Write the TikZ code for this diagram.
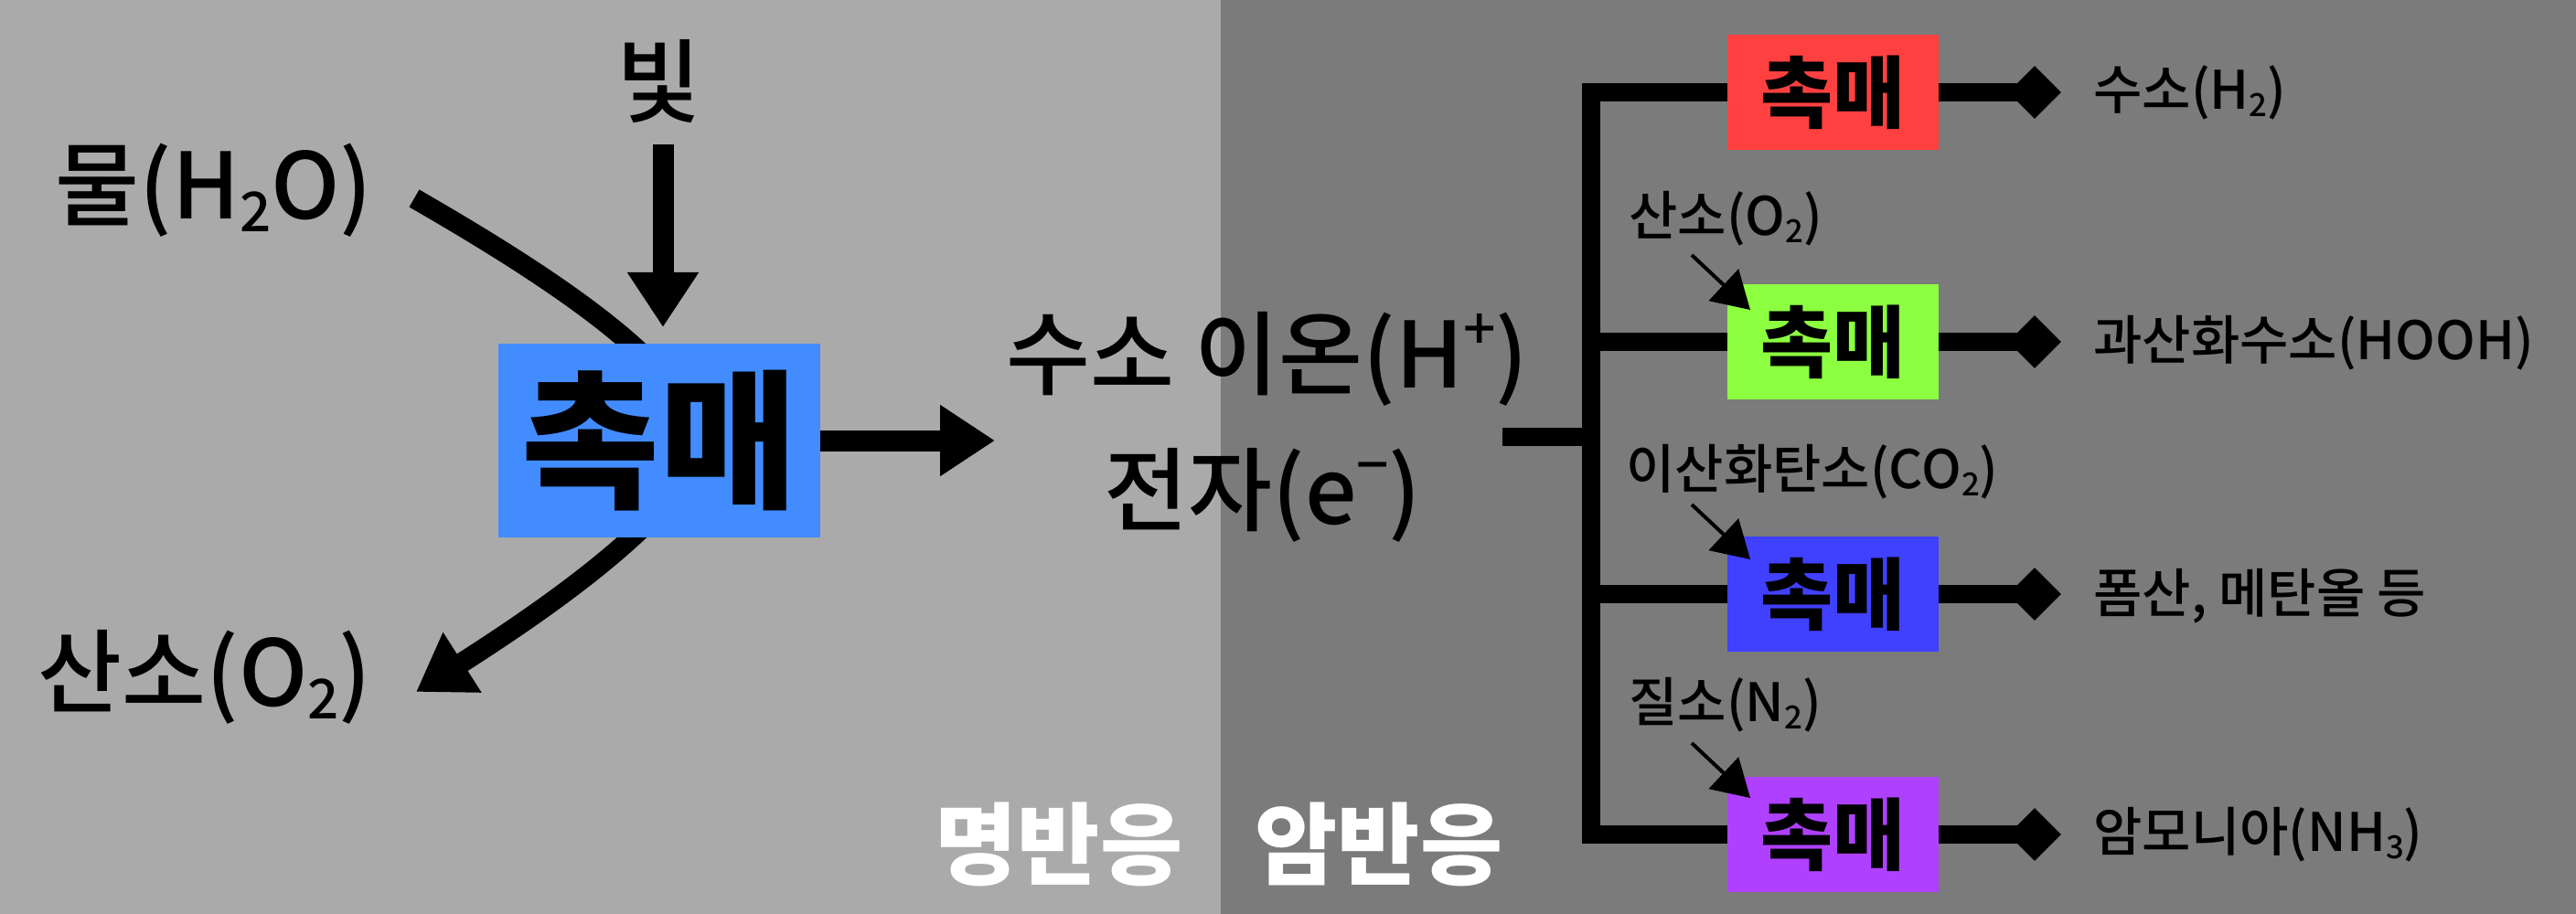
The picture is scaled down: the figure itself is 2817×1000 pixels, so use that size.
\documentclass[tikz,border=0pt]{standalone}
\usepackage{fontspec}
\usepackage{graphicx}
\setmainfont{Noto Sans CJK KR}
\newfontfamily\krmed{Noto Sans CJK KR Medium}
\usetikzlibrary{arrows.meta,shapes.geometric}
\definecolor{bgl}{HTML}{AAAAAA}
\definecolor{bgd}{HTML}{7B7B7B}
\definecolor{cblue}{HTML}{428CFF}
\definecolor{cred}{HTML}{FF4040}
\definecolor{cgreen}{HTML}{8CFF40}
\definecolor{cindigo}{HTML}{4040FF}
\definecolor{cpurple}{HTML}{B040FF}
\newcommand\subs[1]{\raisebox{-0.14em}{\scalebox{0.6}{#1}}}
\newcommand\sups[1]{\raisebox{0.42em}{\scalebox{0.62}{#1}}}
\begin{document}
\begin{tikzpicture}[x=0.5pt,y=-0.5pt,
 lbig/.style={inner sep=0, font=\krmed\fontsize{50}{60}\selectfont},
 lsmall/.style={inner sep=0, font=\krmed\fontsize{29}{35}\selectfont},
 catbig/.style={fill=cblue, minimum width=176pt, minimum height=106pt, inner sep=0, font=\bfseries\fontsize{82}{90}\selectfont},
 cat/.style={fill=#1, minimum width=115.5pt, minimum height=63pt, inner sep=0, font=\bfseries\fontsize{43}{50}\selectfont},
 fatarrow/.style={line width=11.5pt, -{Triangle[width=37pt,length=30pt]}},
 fatcurve/.style={line width=11pt},
 bar/.style={line width=10pt, line join=miter},
 thinarrow/.style={line width=2pt, -{Triangle[width=23.5pt,length=20pt]}},
 dia/.style={diamond, fill=black, minimum width=29pt, minimum height=29pt, inner sep=0, aspect=1},
 stage/.style={inner sep=0, text=white, font=\bfseries\fontsize{49}{55}\selectfont}
]
\useasboundingbox (0,0) rectangle (2817,1000);
\fill[bgl] (0,0) rectangle (1335,1000);
\fill[bgd] (1335,0) rectangle (2817,1000);

% left: light reaction
\coordinate (w1) at (453,217);
\coordinate (w2) at (710,395);
\coordinate (o1) at (710,570);
\coordinate (o2) at (455,757);
\draw[fatcurve] (w1) .. controls (545,270) and (650,335) .. (w2);
\draw[fatcurve, -{Triangle[width=37pt,length=30pt]}] (o1) .. controls (650,630) and (560,690) .. (o2);

\node[catbig] (cat) at (721,482) {촉매};
\node[lbig] (light) at (720,89) {빛};
\node[lbig] (water) at (234,208) {물(H\subs{2}O)};
\node[lbig] (oxy) at (224,741) {산소(O\subs{2})};
\node[lbig] (hion) at (1386,393) {수소 이온(H\sups{+})};
\node[lbig] (elec) at (1381,542) {전자(e\sups{−})};

\coordinate (ls) at (725,158);
\coordinate (lt) at (725,358);
\draw[fatarrow] (ls) -- (lt);
\coordinate (rt) at (1088,482);
\draw[fatarrow] (cat.east) -- (rt);

% right: dark reaction
\node[cat=cred] (c1) at (2004.5,101) {촉매};
\node[cat=cgreen] (c2) at (2004.5,374) {촉매};
\node[cat=cindigo] (c3) at (2004.5,650) {촉매};
\node[cat=cpurple] (c4) at (2004.5,913) {촉매};

\coordinate (stub) at (1643,478);
\coordinate (vx) at (1740,0);
\draw[bar] (stub) -- (stub -| vx);
\draw[bar] (c1.west) -| (c4.west -| vx) -- (c4.west);
\draw[bar] (c2.west) -- (c2.west -| vx);
\draw[bar] (c3.west) -- (c3.west -| vx);

\foreach \i/\y in {1/101,2/374,3/650,4/913}{
  \node[dia] (d\i) at (2225,\y) {};
  \draw[bar] (c\i.east) -- (d\i.center);
}

\node[lsmall, anchor=west] (p1) at (2289,101) {수소(H\subs{2})};
\node[lsmall, anchor=west] (p2) at (2289,375) {과산화수소(HOOH)};
\node[lsmall, anchor=west] (p3) at (2289,652) {폼산, 메탄올 등};
\node[lsmall, anchor=west] (p4) at (2289,913) {암모니아(NH\subs{3})};

\node[lsmall, anchor=west] (i2) at (1781,239) {산소(O\subs{2})};
\node[lsmall, anchor=west] (i3) at (1778,516) {이산화탄소(CO\subs{2})};
\node[lsmall, anchor=west] (i4) at (1781,771) {질소(N\subs{2})};

\coordinate (s2) at (1850,279);
\coordinate (t2) at (1914,339);
\coordinate (s3) at (1850,552);
\coordinate (t3) at (1914,612);
\coordinate (s4) at (1850,813);
\coordinate (t4) at (1914,873);
\draw[thinarrow] (s2) -- (t2);
\draw[thinarrow] (s3) -- (t3);
\draw[thinarrow] (s4) -- (t4);

\node[stage] (bright) at (1158,924) {명반응};
\node[stage] (dark) at (1508,924) {암반응};
\end{tikzpicture}
\end{document}
